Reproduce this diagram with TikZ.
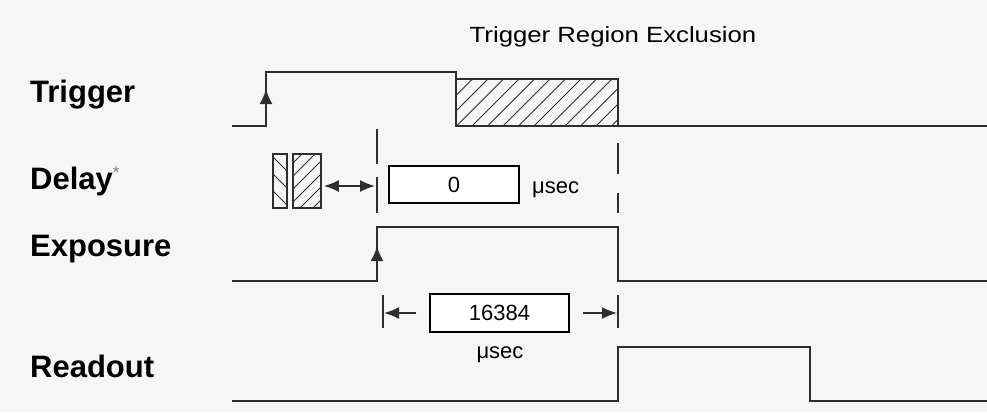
\documentclass[tikz,border=0pt]{standalone}
\usepackage{fontspec}
\setmainfont{Liberation Sans}
\usetikzlibrary{arrows.meta}
\definecolor{bg}{HTML}{F6F6F6}
\definecolor{ln}{HTML}{2E2E2E}
\begin{document}
\begin{tikzpicture}[x=1pt,y=-1pt,
  sig/.style={draw=ln, line width=2pt, line join=miter},
  lbl/.style={font=\bfseries\fontsize{31}{31}\selectfont, anchor=base west, inner sep=0pt},
  valbox/.style={draw=black, fill=white, line width=1.8pt, inner sep=0pt, font=\fontsize{22}{22}\selectfont},
  smalltext/.style={font=\fontsize{22}{22}\selectfont, inner sep=0pt},
  hatchbox/.style={draw=ln, line width=1.6pt, inner sep=0pt},
  hatchline/.style={draw=ln, line width=1pt},
  edgearrow/.style={-{Latex[length=15pt,width=13pt]}, line width=2pt, draw=ln},
  dimarrow/.style={-{Latex[length=15pt,width=12pt]}, line width=1.8pt, draw=ln},
  dblarrow/.style={{Latex[length=15pt,width=12pt]}-{Latex[length=15pt,width=12pt]}, line width=1.8pt, draw=ln}
]
\fill[bg] (0,0) rectangle (987,412);
\useasboundingbox (0,0) rectangle (987,412);

% title
\node[smalltext, anchor=base] (title) at (613,43) {\scalebox{1.17}[1]{Trigger Region Exclusion}};

% row labels
\node[lbl] (ltrig) at (30,102) {Trigger};
\node[lbl] (ldelay) at (30,189) {Delay\raisebox{11pt}{\mdseries\fontsize{17}{17}\selectfont\textcolor{gray}{*}}};
\node[lbl] (lexp) at (30,256) {Exposure};
\node[lbl] (lread) at (30,377) {Readout};

% Trigger signal
\begin{scope}
  \clip (456,79) rectangle (618,126);
  \foreach \a in {410,425.5,...,640} \draw[hatchline] (\a,126) -- ++(47,-47);
\end{scope}
\draw[sig] (456,79) rectangle (618,126);
\draw[sig] (232,126) -- (266,126) -- (266,72) -- (456,72) -- (456,126) -- (987,126);
\draw[edgearrow] (266,110) -- (266,89);

% Delay row
\node[hatchbox, minimum width=14pt, minimum height=54pt] (hA) at (280,181) {};
\node[hatchbox, minimum width=28pt, minimum height=54pt] (hB) at (307,181) {};
\begin{scope}
  \clip (hA.south west) rectangle (hA.north east);
  \foreach \a in {140,157,...,230} \draw[hatchline] (273,\a) -- ++(20,20);
\end{scope}
\begin{scope}
  \clip (hB.south west) rectangle (hB.north east);
  \foreach \a in {150,163,...,250} \draw[hatchline] (293,\a) -- ++(30,-30);
\end{scope}

\coordinate (dl) at (375,186);
\draw[dblarrow] ([xshift=2pt]hB.east |- dl) -- (dl);

\draw[sig] (377,129) -- (377,164);
\draw[sig] (377,177) -- (377,213);
\draw[sig] (618,143) -- (618,174);
\draw[sig] (618,193) -- (618,213);

\node[valbox, minimum width=130pt, minimum height=37pt] (b0) at (454,184.5) {0};
\node[smalltext, anchor=base west] (us1) at (532,193) {μsec};

% Exposure signal
\draw[sig] (232,281) -- (377,281) -- (377,227) -- (618,227) -- (618,281) -- (987,281);
\draw[edgearrow] (377,265) -- (377,246);

% duration dimension
\coordinate (tL) at (384,313);
\coordinate (tR) at (617,313);
\draw[sig] (383,295) -- (383,328);
\draw[sig] (618,295) -- (618,328);
\node[valbox, minimum width=139pt, minimum height=38pt] (b16) at (499.5,313) {16384};
\draw[dimarrow] ([xshift=-13pt]b16.west) -- (tL);
\draw[dimarrow] ([xshift=13pt]b16.east) -- (tR);
\node[smalltext, anchor=base] (us2) at (500,358) {μsec};

% Readout signal
\draw[sig] (232,401) -- (618,401) -- (618,347) -- (810,347) -- (810,401) -- (987,401);
\end{tikzpicture}
\end{document}
